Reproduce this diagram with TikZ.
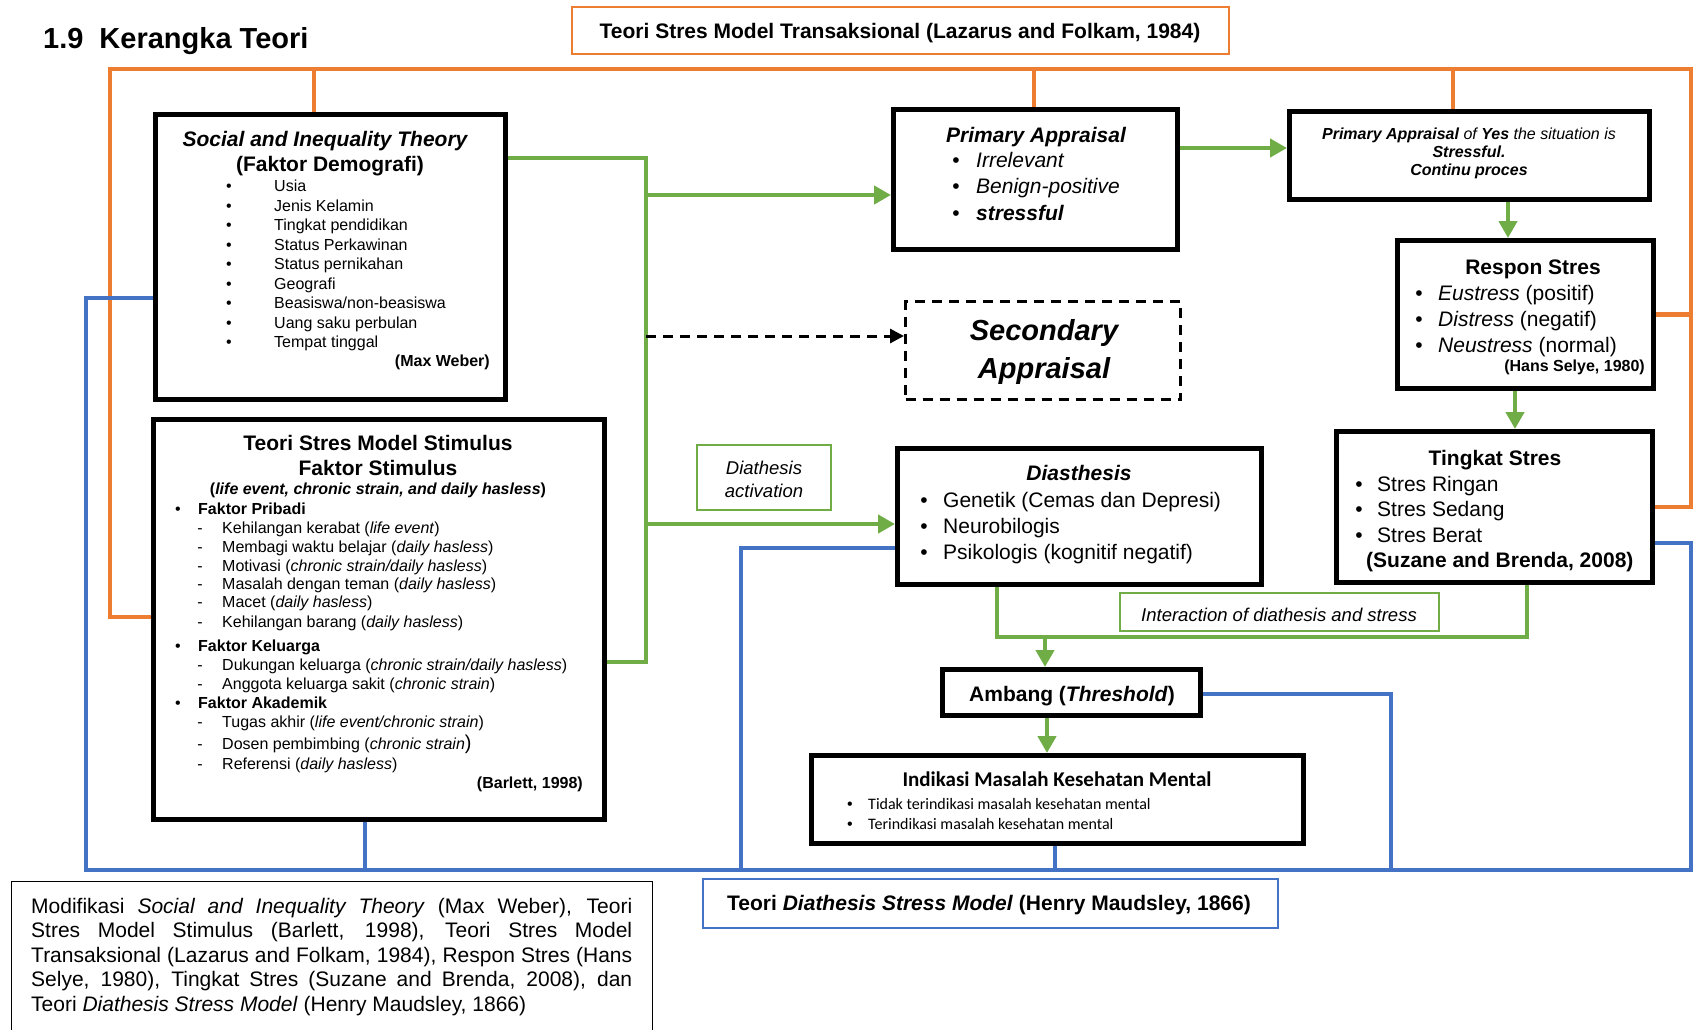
\documentclass[tikz,border=0pt]{standalone}
\usepackage{fontspec}
\setmainfont{Liberation Sans}
\newfontfamily\calib{Carlito}
\usetikzlibrary{arrows.meta}
\definecolor{orgc}{HTML}{ED7D31}
\definecolor{grnc}{HTML}{70AD47}
\definecolor{bluc}{HTML}{4472C4}
\newcommand\fsz[1]{\fontsize{#1}{#1}\selectfont}
% name, bullet x, text x, y, text, size, extra font
\newcommand\bitem[7]{%
  \node[C=#6,font=\fsz{#6}] (#1b) at (#2,#4) {\textbullet};
  \node[L=#6,font=\fsz{#6}#7] (#1) at (#3,#4) {#5};}
\newcommand\ditem[3]{%
  \node[C=16,font=\fsz{16}] (#1d) at (200,#2) {-};
  \node[L=16,font=\fsz{16}] (#1) at (222,#2) {#3};}
\begin{document}
\begin{tikzpicture}[x=1pt,y=-1pt,
  bx/.style={draw=black, line width=5pt, inner sep=0pt, rectangle},
  tbox/.style={draw, line width=2.5pt, inner sep=0pt, rectangle},
  org/.style={draw=orgc, line width=4.5pt},
  grl/.style={draw=grnc, line width=4.5pt},
  blu/.style={draw=bluc, line width=4.5pt},
  garr/.style={grl, -{Triangle[length=17pt,width=18pt]}},
  darr/.style={draw=black, line width=3pt, dash pattern=on 10pt off 7pt, -{Triangle[length=14pt,width=14pt]}},
  L/.style={anchor=base west, inner sep=0pt, yshift=-0.36*#1pt},
  C/.style={anchor=base, inner sep=0pt, yshift=-0.36*#1pt},
  R/.style={anchor=base east, inner sep=0pt, yshift=-0.36*#1pt},
  fb/.style={font=\fsz{21}\bfseries},
  fbi/.style={font=\fsz{21}\bfseries\itshape}]
\useasboundingbox[fill=white] (0,0) rectangle (1694,1029);

% ---- title
\node[L=29, font=\fsz{29}\bfseries] (ttl) at (43,38) {1.9\hspace{16pt}Kerangka Teori};

% ---- orange title box
\node[tbox, draw=orgc, minimum width=657pt, minimum height=47pt] (otb) at (900.5,30.5) {};
\node[C=21, fb] (otbt) at (900,31) {Teori Stres Model Transaksional (Lazarus and Folkam, 1984)};

% ---- Social box
\node[bx, minimum width=350pt, minimum height=285pt] (soc) at (330.5,257) {};
\node[C=21, fbi] (soct1) at (325,139) {Social and Inequality Theory};
\node[C=21, fb] (soct2) at (330,164) {(Faktor Demografi)};
\bitem{sa}{229}{274}{186}{Usia}{16}{}
\bitem{sb}{229}{274}{206}{Jenis Kelamin}{16}{}
\bitem{sc}{229}{274}{225}{Tingkat pendidikan}{16}{}
\bitem{sd}{229}{274}{245}{Status Perkawinan}{16}{}
\bitem{se}{229}{274}{264}{Status pernikahan}{16}{}
\bitem{sf}{229}{274}{284}{Geografi}{16}{}
\bitem{sg}{229}{274}{303}{Beasiswa/non-beasiswa}{16}{}
\bitem{sh}{229}{274}{323}{Uang saku perbulan}{16}{}
\bitem{si}{229}{274}{342}{Tempat tinggal}{16}{}
\node[R=16, font=\fsz{16}\bfseries] (socref) at (490,361) {(Max Weber)};

% ---- Stimulus box
\node[bx, minimum width=451pt, minimum height=400pt] (stim) at (379,619.5) {};
\node[C=21, fb] (stt1) at (378,443) {Teori Stres Model Stimulus};
\node[C=21, fb] (stt2) at (378,468) {Faktor Stimulus};
\node[C=16, font=\fsz{16}\bfseries] (stt3) at (378,489) {(\textit{life event, chronic strain, and daily hasless})};
\bitem{fp}{178}{198}{509}{Faktor Pribadi}{16}{\bfseries}
\ditem{da}{528}{Kehilangan kerabat (\textit{life event})}
\ditem{db}{547}{Membagi waktu belajar (\textit{daily hasless})}
\ditem{dc}{566}{Motivasi (\textit{chronic strain/daily hasless})}
\ditem{dd}{584}{Masalah dengan teman (\textit{daily hasless})}
\ditem{de}{602}{Macet (\textit{daily hasless})}
\ditem{df}{622}{Kehilangan barang (\textit{daily hasless})}
\bitem{fk}{178}{198}{646}{Faktor Keluarga}{16}{\bfseries}
\ditem{dg}{665}{Dukungan keluarga (\textit{chronic strain/daily hasless})}
\ditem{dh}{684}{Anggota keluarga sakit (\textit{chronic strain})}
\bitem{fa}{178}{198}{703}{Faktor Akademik}{16}{\bfseries}
\ditem{di}{722}{Tugas akhir (\textit{life event/chronic strain})}
\ditem{dj}{744}{Dosen pembimbing (\textit{chronic strain}{\fsz{20})}}
\ditem{dk}{764}{Referensi (\textit{daily hasless})}
\node[R=16, font=\fsz{16}\bfseries] (stref) at (583,783) {(Barlett, 1998)};

% ---- Primary appraisal
\node[bx, minimum width=284pt, minimum height=140pt] (pa1) at (1035.5,179.5) {};
\node[C=21, fbi] (pa1t) at (1036,135) {Primary Appraisal};
\bitem{pia}{956}{976}{160}{\textit{Irrelevant}}{21}{}
\bitem{pib}{956}{976}{186}{\textit{Benign-positive}}{21}{}
\bitem{pic}{956}{976}{213}{\textbf{\textit{stressful}}}{21}{}

% ---- Primary appraisal 2
\node[bx, minimum width=360pt, minimum height=88pt] (pa2) at (1469.5,155.5) {};
\node[C=16, font=\fsz{16}\itshape] (pa2a) at (1469,134) {\textbf{Primary Appraisal} of \textbf{Yes} the situation is};
\node[C=16, font=\fsz{16}\bfseries\itshape] (pa2b) at (1469,152) {Stressful.};
\node[C=16, font=\fsz{16}\bfseries\itshape] (pa2c) at (1469,170) {Continu proces};

% ---- Respon Stres
\node[bx, minimum width=256pt, minimum height=148pt] (resp) at (1525.5,314.5) {};
\node[C=21, fb] (respt) at (1533,267) {Respon Stres};
\bitem{ra}{1419}{1438}{293}{\textit{Eustress} (positif)}{21}{}
\bitem{rb}{1419}{1438}{319}{\textit{Distress} (negatif)}{21}{}
\bitem{rc}{1419}{1438}{345}{\textit{Neustress} (normal)}{21}{}
\node[R=16, font=\fsz{16}\bfseries] (respref) at (1645,366) {(Hans Selye, 1980)};

% ---- Tingkat Stres
\node[bx, minimum width=316pt, minimum height=151pt] (ting) at (1494.5,507) {};
\node[C=21, fb] (tingt) at (1495,458) {Tingkat Stres};
\bitem{tia}{1359}{1377}{484}{Stres Ringan}{21}{}
\bitem{tib}{1359}{1377}{509}{Stres Sedang}{21}{}
\bitem{tic}{1359}{1377}{535}{Stres Berat}{21}{}
\node[L=21, fb] (tingref) at (1366,560) {(Suzane and Brenda, 2008)};

% ---- Diasthesis
\node[bx, minimum width=364pt, minimum height=136pt] (dia) at (1079.5,516.5) {};
\node[C=21, fbi] (diat) at (1079,473) {Diasthesis};
\bitem{dxa}{924}{943}{500}{Genetik (Cemas dan Depresi)}{21}{}
\bitem{dxb}{924}{943}{526}{Neurobilogis}{21}{}
\bitem{dxc}{924}{943}{552}{Psikologis (kognitif negatif)}{21}{}

% ---- Secondary appraisal
\node[draw, line width=3pt, dash pattern=on 10pt off 7pt, minimum width=275pt, minimum height=98pt, inner sep=0pt] (sec) at (1043,350.5) {};
\node[C=29, font=\fsz{29}\bfseries\itshape] (seca) at (1044,330) {Secondary};
\node[C=29, font=\fsz{29}\bfseries\itshape] (secb) at (1044,368) {Appraisal};

% ---- Diathesis activation
\node[tbox, draw=grnc, minimum width=134pt, minimum height=65pt] (act) at (764,477.5) {};
\node[C=18.5, font=\fsz{18.5}\itshape] (acta) at (764,468) {Diathesis};
\node[C=18.5, font=\fsz{18.5}\itshape] (actb) at (764,491) {activation};

% ---- Interaction
\node[tbox, draw=grnc, minimum width=319pt, minimum height=38pt] (inter) at (1279.5,612) {};
\node[C=18.5, font=\fsz{18.5}\itshape] (intert) at (1279,615) {Interaction of diathesis and stress};

% ---- Ambang
\node[bx, minimum width=258pt, minimum height=46pt] (amb) at (1071.5,692.5) {};
\node[C=21, fb] (ambt) at (1072,694) {Ambang (\textit{Threshold})};

% ---- Indikasi
\node[bx, minimum width=492pt, minimum height=88pt] (ind) at (1057.5,799.5) {};
\node[C=19, font=\calib\fsz{21}\bfseries] (indt) at (1057,780) {Indikasi Masalah Kesehatan Mental};
\bitem{ia}{850}{868}{804}{Tidak terindikasi masalah kesehatan mental}{16}{\calib}
\bitem{ib}{850}{868}{824}{Terindikasi masalah kesehatan mental}{16}{\calib}

% ---- Blue title box
\node[tbox, draw=bluc, minimum width=575pt, minimum height=49pt] (btb) at (990.5,903.5) {};
\node[C=21, fb] (btbt) at (989,903) {Teori \textit{Diathesis Stress Model} (Henry Maudsley, 1866)};

% ---- Note box
\node[draw, line width=1.5pt, minimum width=641pt, minimum height=170pt, inner sep=0pt, anchor=north west] (note) at (10.75,880.75) {};
\node[anchor=north west, inner sep=0pt, text width=601pt, align=justify, font=\fontsize{21}{24.4}\selectfont] (notet) at (31,898)
 {\hyphenpenalty=10000\exhyphenpenalty=10000\noindent Modifikasi \textit{Social and Inequality Theory} (Max Weber), Teori\linebreak
 Stres Model Stimulus (Barlett, 1998), Teori Stres Model\linebreak
 Transaksional (Lazarus and Folkam, 1984), Respon Stres (Hans\linebreak
 Selye, 1980), Tingkat Stres (Suzane and Brenda, 2008), dan\linebreak
 Teori \textit{Diathesis Stress Model} (Henry Maudsley, 1866)};

% ================= connectors
% orange
\coordinate (oTL) at (110,69);
\coordinate (oTR) at (1691,69);
\draw[org] (stim.west |- 0,617) -| (oTL) -- (oTR) |- (ting.east);
\draw[org] (oTR |- resp.east) -- (resp.east);
\draw[org] (oTL -| 314,0) -- (soc.north -| 314,0);
\draw[org] (oTL -| 1034,0) -- (pa1.north -| 1034,0);
\draw[org] (oTL -| 1453,0) -- (pa2.north -| 1453,0);

% green
\coordinate (gT) at (646,158);
\coordinate (gB) at (646,662);
\draw[grl] (soc.east |- gT) -- (gT) -- (gB) -- (stim.east |- gB);
\draw[garr] (gT |- 0,195) -- (pa1.west |- 0,195);
\draw[garr] (gT |- 0,524) -- (dia.west |- 0,524);
\draw[darr] (gT |- 0,336) -- (sec.west |- 0,336);
\draw[garr] (pa1.east |- 0,148) -- (pa2.west |- 0,148);
\draw[garr] (pa2.south -| 1508,0) -- (resp.north -| 1508,0);
\draw[garr] (resp.south -| 1515,0) -- (ting.north -| 1515,0);
\coordinate (gL) at (997,637);
\coordinate (gR) at (1527,637);
\draw[grl] (dia.south -| gL) -- (gL) -- (gR) -- (ting.south -| gR);
\draw[garr] (gL -| 1045,0) -- (amb.north -| 1045,0);
\draw[garr] (amb.south -| 1047,0) -- (ind.north -| 1047,0);

% blue
\coordinate (bBL) at (86,870);
\coordinate (bBR) at (1691,870);
\draw[blu] (soc.west |- 0,298) -- (bBL |- 0,298) -- (bBL) -- (bBR) -- (bBR |- 0,543) -- (ting.east |- 0,543);
\draw[blu] (stim.south -| 365,0) -- (bBL -| 365,0);
\draw[blu] (dia.west |- 0,548) -- (741,548) -- (bBL -| 741,0);
\draw[blu] (ind.south -| 1055,0) -- (bBL -| 1055,0);
\draw[blu] (amb.east |- 0,694) -- (1391,694) -- (bBL -| 1391,0);
\end{tikzpicture}
\end{document}
